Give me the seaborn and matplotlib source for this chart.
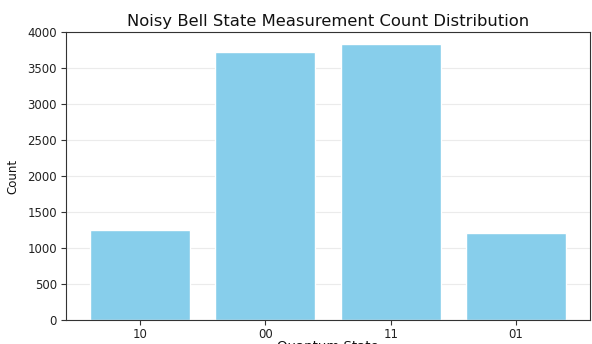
import matplotlib
matplotlib.use("Agg")
import matplotlib.pyplot as plt
import seaborn as sns
import pandas as pd

# Measurement outcomes of a noisy Bell-state circuit (10000 shots)
states = ["10", "00", "11", "01"]
counts = [1250, 3717, 3830, 1203]

sns.set_style("white")
plt.rcParams["font.family"] = ["DejaVu Sans"]

df = pd.DataFrame({"state": states, "count": counts})

fig = plt.figure(figsize=(5.92, 3.44), dpi=100)
ax = fig.add_axes([66 / 592, 1 - 320 / 344, (590 - 66) / 592, (320 - 32) / 344])

sns.barplot(data=df, x="state", y="count", order=states, color="skyblue",
            saturation=1, width=0.8, ax=ax, zorder=2)

ax.set_xlim(-0.59, 3.59)
ax.set_ylim(0, 4000)
ax.set_yticks(range(0, 4001, 500))
ax.yaxis.grid(True, color="#ebebeb", linewidth=0.8, zorder=0)
ax.set_axisbelow(True)

for side in ["left", "right", "top", "bottom"]:
    ax.spines[side].set_visible(True)
    ax.spines[side].set_color("#333333")
    ax.spines[side].set_linewidth(0.8)

ax.tick_params(axis="both", which="both", length=3.5, width=0.8, color="#333333",
               labelsize=8.5, labelcolor="#222222", bottom=True, left=True, pad=3)
ax.tick_params(axis="x", pad=2)

ax.set_title("Noisy Bell State Measurement Count Distribution", fontsize=11.8,
             color="#111111", pad=4)
ax.set_xlabel("Quantum State", fontsize=9.5, color="#111111", labelpad=-1)
ax.set_ylabel("Count", fontsize=8.5, color="#111111", labelpad=6)

fig.savefig("out.png", dpi=100)
